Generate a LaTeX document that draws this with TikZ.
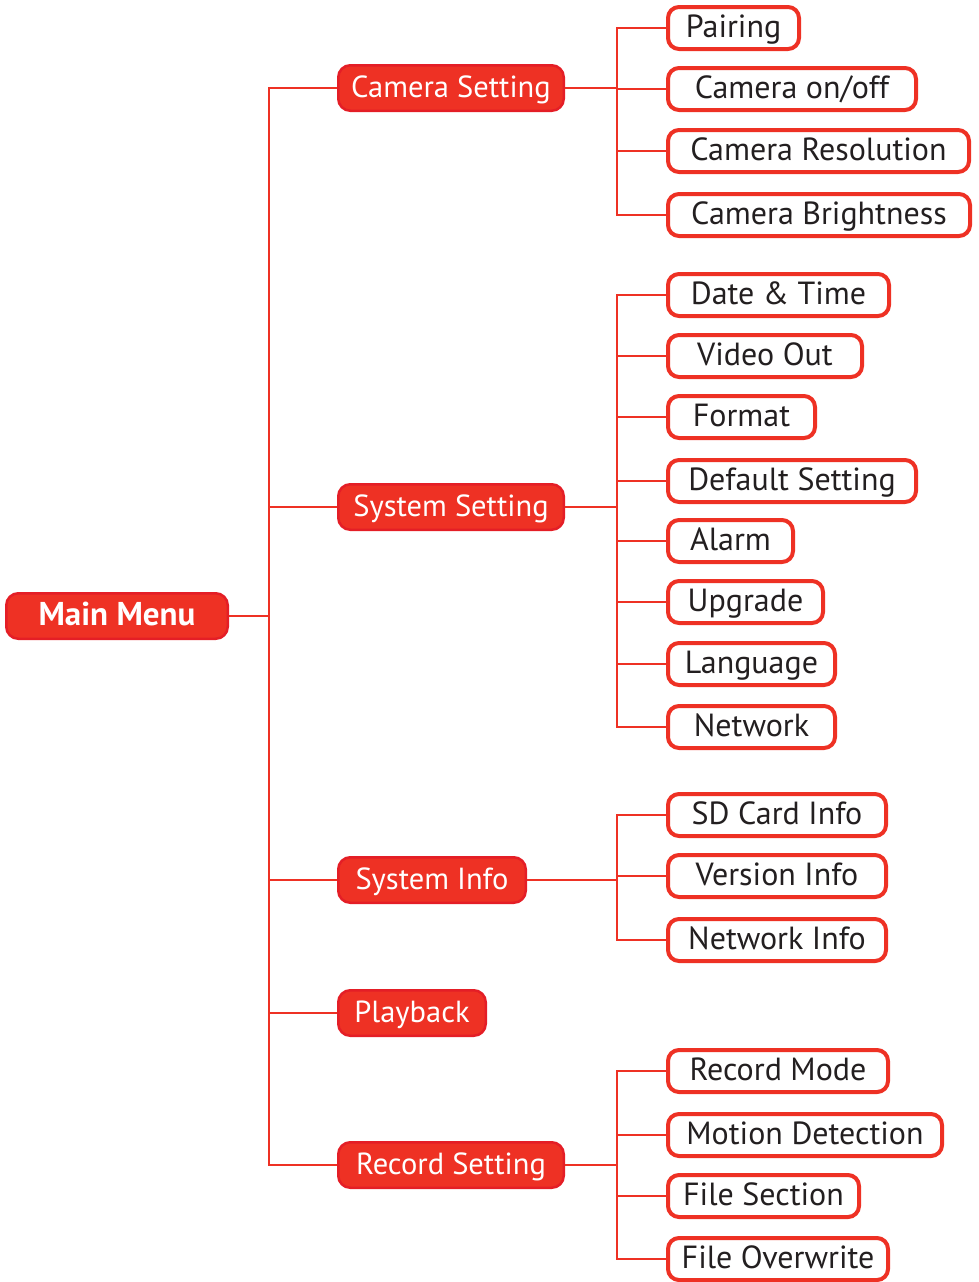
\documentclass[tikz,border=0pt]{standalone}
\usepackage{fontspec}
\setmainfont{PT Sans}
\definecolor{mred}{HTML}{EE3124}
\definecolor{mredd}{HTML}{E41E26}
\definecolor{txt}{HTML}{231F20}
\newcommand\leafbox[5]{\node[leaf, minimum width={#3-#2-4}, anchor=center] (#1) at ({(#2+#3)/2},#4) {#5};}
\newcommand\catbox[5]{\node[cat, minimum width={#3-#2-2.5}, anchor=center] (#1) at ({(#2+#3)/2},#4) {#5};}
\begin{document}
\begin{tikzpicture}[x=1pt,y=-1pt,
  leaf/.style={draw=mred, line width=4pt, fill=white, rounded corners=11pt, inner sep=0pt,
    minimum height=42pt, text=txt, font=\fontsize{32}{38}\selectfont, text height=22pt, text depth=4pt},
  cat/.style={draw=mredd, line width=2.5pt, fill=mred, rounded corners=12pt, inner sep=0pt,
    minimum height=45.5pt, text=white, font=\fontsize{30.5}{36}\selectfont, text height=22pt, text depth=4pt},
  link/.style={draw=mred, line width=2.5pt}]
\useasboundingbox (0,0) rectangle (978,1282);
% main
\node[cat, minimum width=221.5pt, font=\bfseries\fontsize{33}{38}\selectfont] (main) at (117,616) {Main Menu};
\coordinate (trunk) at (269,616);
% level 1
\catbox{cs}{337}{565}{88}{Camera Setting}
\catbox{ss}{337}{565}{507}{System Setting}
\catbox{si}{337}{527}{880}{System Info}
\catbox{pb}{337}{487}{1013}{Playback}
\catbox{rs}{337}{565}{1165}{Record Setting}
% leaves camera
\leafbox{pa}{666}{801}{28}{Pairing}
\leafbox{co}{666}{918}{89}{Camera on/off}
\leafbox{cr}{666}{971}{151}{Camera Resolution}
\leafbox{cb}{666}{972}{215}{Camera Brightness}
% system
\leafbox{dt}{666}{891}{295}{Date \& Time}
\leafbox{vo}{666}{864}{356}{Video Out}
\leafbox{fo}{666}{817}{417}{Format}
\leafbox{ds}{666}{918}{481}{Default Setting}
\leafbox{al}{666}{795}{541}{Alarm}
\leafbox{up}{666}{825}{602}{Upgrade}
\leafbox{la}{666}{837}{664}{Language}
\leafbox{nw}{666}{837}{727}{Network}
% info
\leafbox{sd}{666}{888}{815}{SD Card Info}
\leafbox{vi}{666}{888}{876}{Version Info}
\leafbox{ni}{666}{888}{940}{Network Info}
% record
\leafbox{rm}{666}{890}{1071}{Record Mode}
\leafbox{md}{666}{944}{1135}{Motion Detection}
\leafbox{fs}{666}{861}{1196}{File Section}
\leafbox{fw}{666}{890}{1259}{File Overwrite}
% connectors
\draw[link] (main.east) -- (trunk);
\foreach \c in {cs,ss,si,pb,rs} \draw[link] (trunk) |- (\c.west);
\foreach \c in {pa,co,cr,cb} \draw[link] (\c.west) -- ++(-49,0) |- (cs.east);
\foreach \c in {dt,vo,fo,ds,al,up,la,nw} \draw[link] (\c.west) -- ++(-49,0) |- (ss.east);
\foreach \c in {sd,vi,ni} \draw[link] (\c.west) -- ++(-49,0) |- (si.east);
\foreach \c in {rm,md,fs,fw} \draw[link] (\c.west) -- ++(-49,0) |- (rs.east);
\end{tikzpicture}
\end{document}
